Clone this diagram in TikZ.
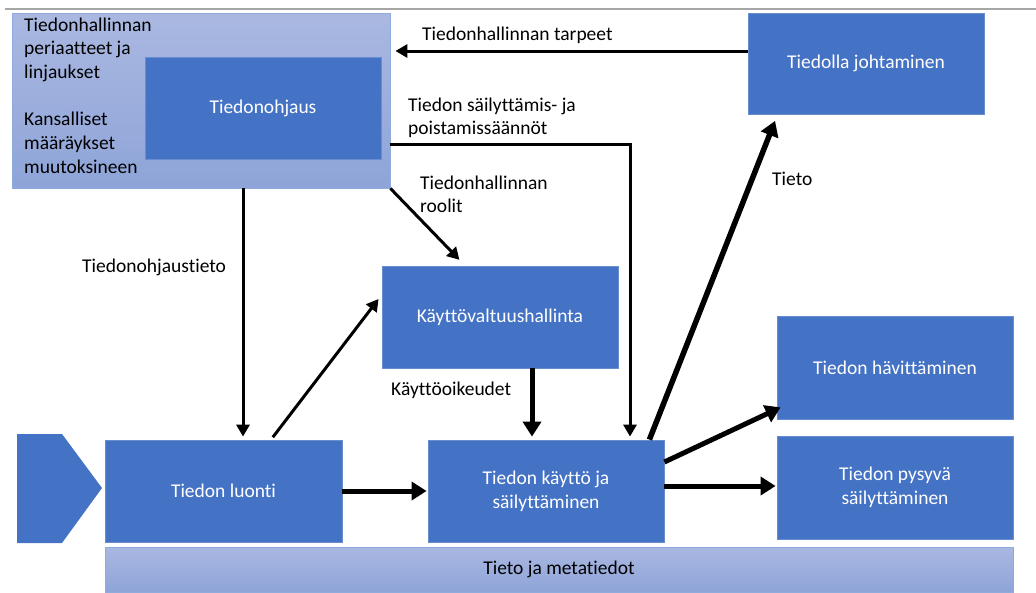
\documentclass[tikz,border=0pt]{standalone}
\usepackage{fontspec}
\setmainfont{Carlito}[Ligatures=NoCommon]
\usetikzlibrary{arrows.meta,calc}
\definecolor{boxblue}{HTML}{4472C4}
\definecolor{boxedge}{HTML}{6A8DD0}
\definecolor{lighttop}{HTML}{AAB8E1}
\definecolor{lightbot}{HTML}{8EA4D8}
\definecolor{lightedge}{HTML}{8FAADC}
\definecolor{rulegray}{HTML}{A6A6A6}
\begin{document}
\begin{tikzpicture}[x=1pt,y=-1pt,
  font=\fontsize{19.5}{23.7}\selectfont,
  bluebox/.style={draw=boxedge, line width=0.8pt, fill=boxblue, text=white, align=center,
    inner sep=0pt, minimum width=236pt, minimum height=102pt},
  lightbox/.style={draw=lightedge, line width=0.8pt, top color=lighttop, bottom color=lightbot,
    inner sep=0pt},
  lbl/.style={text=black, inner sep=0pt, anchor=base west},
  thinarrow/.style={draw=black, line width=3pt, -{Triangle[length=12pt,width=13pt]}},
  thickarrow/.style={draw=black, line width=5pt, -{Triangle[length=15pt,width=18pt]}},
]
\useasboundingbox (0,0) rectangle (1036,592);
\draw[rulegray, line width=2pt] (5,9) -- (1036,9);

% left container
\node[lightbox, minimum width=378pt, minimum height=175pt] (big) at (201,100.5) {};
\node[bluebox] (ohjaus) at (263,108) {Tiedonohjaus};
\node[lbl] (bigtext) at (24,31) {\begin{tabular}[t]{@{}l@{}}Tiedonhallinnan\\periaatteet ja\\linjaukset\\[23.7pt]Kansalliset\\määräykset\\muutoksineen\end{tabular}};

% boxes
\node[bluebox, minimum height=101pt] (johtaminen) at (866,63.5) {Tiedolla johtaminen};
\node[bluebox] (kv) at (500,317) {Käyttövaltuushallinta};
\node[bluebox, minimum width=237pt] (luonti) at (223.5,491) {Tiedon luonti};
\node[bluebox] (kaytto) at (546,491) {Tiedon käyttö ja\\säilyttäminen};
\node[bluebox, minimum height=103pt] (havitt) at (895,367.5) {Tiedon hävittäminen};
\node[bluebox, minimum height=103pt] (pysyva) at (895,487.5) {Tiedon pysyvä\\säilyttäminen};
\node[lightbox, minimum width=908pt, minimum height=45pt, text=black] (bar) at (559,569.5) {Tieto ja metatiedot};

% start chevron
\fill[boxblue] (17,434) -- (62,434) -- (102,488) -- (62,543) -- (17,543) -- cycle;

% connectors
\draw[thinarrow, shorten >=5pt] ($(johtaminen.west)+(0,-12.5)$) coordinate (t1) -- (t1 -| big.east);
\draw[thinarrow, shorten >=3pt] ($(big.east)+(0,43.5)$) -| ($(kaytto.north)+(84,0)$);
\draw[thinarrow, shorten >=8pt] (big.south east) -- ($(kv.north)+(-35,0)$);
\draw[thinarrow, shorten >=3pt] ($(big.south)+(42,0)$) -- ($(luonti.north)+(19.5,0)$);
\draw[thinarrow, shorten <=3pt, shorten >=5pt] ($(luonti.north)+(47.5,0)$) -- ($(kv.west)+(0,-22)$);
\draw[thickarrow, shorten >=3pt] ($(kv.south)+(32,0)$) -- ($(kaytto.north)+(-14,0)$);
\draw[thickarrow, shorten >=1pt] (luonti.east) -- (kaytto.west);
\draw[thickarrow] ($(kaytto.east)+(0,-29)$) -- ($(havitt.south west)+(4,-12)$);
\draw[thickarrow, shorten >=1pt] ($(kaytto.east)+(0,-5)$) coordinate (t2) -- (t2 -| pysyva.west);
\draw[thickarrow, line width=5.5pt, shorten >=7pt] ($(kaytto.north east)+(-15,0)$) -- ($(johtaminen.south west)+(30,0)$);

% labels
\node[lbl] (l1) at (422,40.5) {Tiedonhallinnan tarpeet};
\node[lbl] (l2) at (408,111) {\begin{tabular}[t]{@{}l@{}}Tiedon säilyttämis- ja\\poistamissäännöt\end{tabular}};
\node[lbl] (l3) at (420,189) {\begin{tabular}[t]{@{}l@{}}Tiedonhallinnan\\roolit\end{tabular}};
\node[lbl] (l4) at (82,272.5) {Tiedonohjaustieto};
\node[lbl] (l5) at (391,395) {Käyttöoikeudet};
\node[lbl] (l6) at (772,185) {Tieto};
\end{tikzpicture}
\end{document}
